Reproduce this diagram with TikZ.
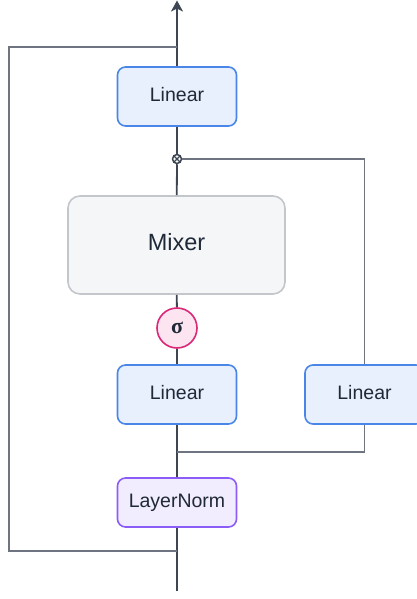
\documentclass[tikz,border=0pt]{standalone}
\usepackage{fontspec}
\setmainfont{Liberation Sans}
\newfontfamily\sigfont{Liberation Serif}
\usetikzlibrary{arrows.meta, positioning, calc}

\definecolor{txt}{RGB}{31,41,55}
\definecolor{wiredark}{RGB}{62,70,84}
\definecolor{wiregray}{RGB}{110,117,128}
\definecolor{linblue}{RGB}{74,134,232}
\definecolor{linfill}{RGB}{232,240,254}
\definecolor{mixdraw}{RGB}{195,198,203}
\definecolor{mixfill}{RGB}{245,246,248}
\definecolor{sigdraw}{RGB}{219,39,119}
\definecolor{sigfill}{RGB}{252,228,240}
\definecolor{lndraw}{RGB}{139,92,246}
\definecolor{lnfill}{RGB}{241,236,254}

\begin{document}
\begin{tikzpicture}[x=1pt, y=-1pt, font=\fontsize{19.5}{22}\selectfont,
  box/.style={draw, rounded corners=8pt, line width=1.6pt, inner sep=0pt,
              minimum width=119pt, minimum height=59pt, text depth=4pt, text=txt},
  linbox/.style={box, draw=linblue, fill=linfill},
  wire/.style={draw=wiredark, line width=1.8pt},
  skip/.style={draw=wiregray, line width=1.6pt}]
\useasboundingbox (0,0) rectangle (417,599);

% blocks
\foreach \nm/\x/\y in {lin3/177/96.5, lin1/177/394.5, lin2/364.5/394.5}{
  \node[linbox] (\nm) at (\x,\y) {Linear};
}
\node[box, draw=mixdraw, fill=mixfill, rounded corners=12pt,
      minimum width=217pt, minimum height=98pt, text depth=6pt,
      font=\fontsize{23.5}{26}\selectfont] (mix) at (176.5,245) {Mixer};
\node[circle, draw=sigdraw, fill=sigfill, line width=1.6pt, inner sep=0pt,
      minimum size=40pt, text=txt,
      font=\fontsize{22}{24}\sigfont\bfseries] (sig) at (177,328) {σ};
\node[box, draw=lndraw, fill=lnfill, minimum height=49pt] (ln) at (177,502.5) {LayerNorm};
\node[circle, draw=wiredark, fill=white, line width=1.5pt, inner sep=0pt,
      minimum size=9pt,
      path picture={\draw[wiredark, line width=1.3pt]
        (path picture bounding box.north west) -- (path picture bounding box.south east)
        (path picture bounding box.north east) -- (path picture bounding box.south west);}]
      (mul) at (177,159) {};

\coordinate (in) at (177,591);
\coordinate (out) at (177,0.5);
\coordinate (res) at (177,551);
\coordinate (tap) at (177,47);
\coordinate (join) at (177,452);

% main path
\draw[wire] (in) -- (ln);
\draw[wire] (ln) -- (lin1);
\draw[wire] (lin1) -- (sig);
\draw[wire] (sig) -- (mix);
\draw[wire] (mix) -- (mul);
\draw[wire] (mul) -- (lin3);
\draw[wire, -{Stealth[length=11pt, width=12pt, inset=3pt]}] (lin3) -- (out);

% gate branch
\draw[skip] (mul) -| (lin2);
\draw[skip] (lin2) |- (join);

% residual
\draw[skip] (res) -- (9,551) |- (tap);
\end{tikzpicture}
\end{document}
